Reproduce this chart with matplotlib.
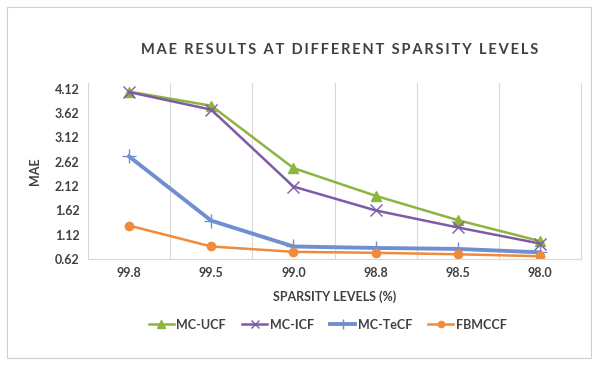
import numpy as np
import matplotlib.pyplot as plt
from matplotlib.patches import Rectangle

levels = ['99.8', '99.5', '99.0', '98.8', '98.5', '98.0']
mc_ucf = [4.06, 3.77, 2.49, 1.92, 1.42, 0.99]
mc_icf = [4.05, 3.69, 2.11, 1.62, 1.27, 0.94]
mc_tecf = [2.73, 1.41, 0.88, 0.85, 0.83, 0.76]
fbmccf = [1.31, 0.88, 0.77, 0.75, 0.72, 0.68]
yticks = [0.62, 1.12, 1.62, 2.12, 2.62, 3.12, 3.62, 4.12]

plt.rcParams['font.family'] = ['Lato', 'DejaVu Sans']
txt = '#404040'

fig = plt.figure(figsize=(5.98, 3.65), dpi=100)
fig.patches.append(Rectangle((0.012, 0.02), 0.976, 0.96, transform=fig.transFigure,
                             fill=False, edgecolor='#d0d0d0', lw=0.8))
ax = fig.add_axes([0.147, 0.290, 0.825, 0.483])

x = np.arange(len(levels))
ax.plot(x, mc_ucf, color='#8db43e', lw=1.8, marker='^', ms=7, label='MC-UCF')
ax.plot(x, mc_icf, color='#7d5ba6', lw=1.8, marker='x', ms=8, mew=1, label='MC-ICF')
ax.plot(x, mc_tecf, color='#6f8fd0', lw=2.8, marker='+', ms=10, mew=1, label='MC-TeCF')
ax.plot(x, fbmccf, color='#f08a3c', lw=1.8, marker='o', ms=6, label='FBMCCF')

ax.set_xlim(-0.5, 5.5)
ax.set_ylim(0.62, 4.24)
ax.set_xticks(x)
ax.set_xticklabels(levels)
ax.set_xticks(np.arange(0.5, 5.5, 1), minor=True)
ax.set_yticks(yticks)
ax.set_yticklabels(['%.2f' % v for v in yticks])
ax.grid(True, which='minor', axis='x', color='#d9d9d9', lw=0.8)
ax.tick_params(which='both', length=0)
ax.tick_params(axis='both', labelsize=9, labelcolor=txt, pad=6)
for lab in ax.get_xticklabels() + ax.get_yticklabels():
    lab.set_fontweight('bold')
ax.spines['top'].set_visible(False)
for s in ['left', 'bottom', 'right']:
    ax.spines[s].set_color('#d9d9d9')

ax.set_xlabel('SPARSITY LEVELS (%)', fontsize=9, fontweight='bold', color=txt, labelpad=8)
ax.set_ylabel('MAE', fontsize=9, fontweight='bold', color=txt, labelpad=10)

title = 'MAE RESULTS AT DIFFERENT SPARSITY LEVELS'
fig.text(0.568, 0.862, '\u2009'.join(title), ha='center', va='center',
         fontsize=10.5, fontweight='bold', color=txt)

leg = fig.legend(loc='center', bbox_to_anchor=(0.548, 0.11), ncol=4, frameon=False,
                 fontsize=9, handlelength=2.0, columnspacing=1.3, handletextpad=0.2,
                 markerscale=0.75)
for t in leg.get_texts():
    t.set_fontweight('bold')
    t.set_color(txt)

fig.savefig('out.png', dpi=100)
